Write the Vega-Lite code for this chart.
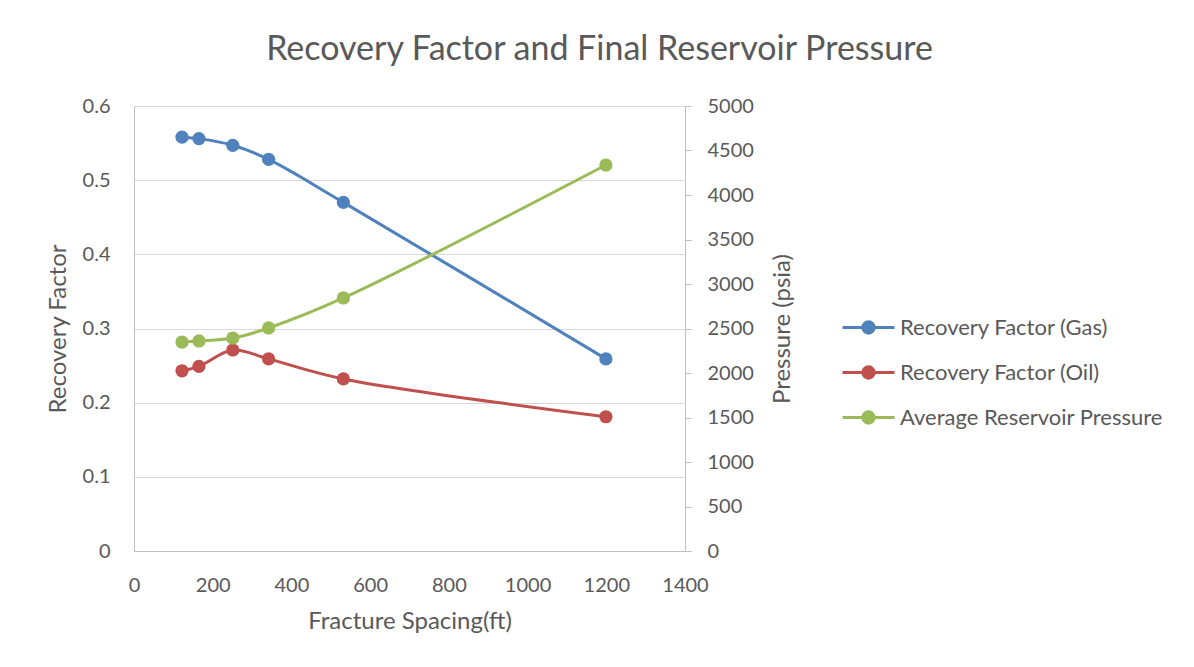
{
  "$schema": "https://vega.github.io/schema/vega-lite/v6.json",
  "width": 551,
  "height": 445,
  "autosize": {"type": "none"},
  "padding": {"left": 134, "top": 106, "right": 509, "bottom": 116},
  "background": "white",
  "title": {
    "text": "Recovery Factor and Final Reservoir Pressure",
    "fontSize": 34,
    "font": "Lato",
    "fontWeight": "normal",
    "color": "#595959",
    "anchor": "middle",
    "dx": 190,
    "offset": 29
  },
  "data": {
    "values": [
      {"spacing": 122, "value": 0.558, "series": "Recovery Factor (Gas)"},
      {"spacing": 165, "value": 0.556, "series": "Recovery Factor (Gas)"},
      {"spacing": 251, "value": 0.547, "series": "Recovery Factor (Gas)"},
      {"spacing": 342, "value": 0.528, "series": "Recovery Factor (Gas)"},
      {"spacing": 532, "value": 0.470, "series": "Recovery Factor (Gas)"},
      {"spacing": 1199, "value": 0.259, "series": "Recovery Factor (Gas)"},
      {"spacing": 122, "value": 0.243, "series": "Recovery Factor (Oil)"},
      {"spacing": 165, "value": 0.249, "series": "Recovery Factor (Oil)"},
      {"spacing": 251, "value": 0.271, "series": "Recovery Factor (Oil)"},
      {"spacing": 342, "value": 0.259, "series": "Recovery Factor (Oil)"},
      {"spacing": 532, "value": 0.232, "series": "Recovery Factor (Oil)"},
      {"spacing": 1199, "value": 0.181, "series": "Recovery Factor (Oil)"},
      {"spacing": 122, "value": 2348, "series": "Average Reservoir Pressure"},
      {"spacing": 165, "value": 2360, "series": "Average Reservoir Pressure"},
      {"spacing": 251, "value": 2393, "series": "Average Reservoir Pressure"},
      {"spacing": 342, "value": 2506, "series": "Average Reservoir Pressure"},
      {"spacing": 532, "value": 2843, "series": "Average Reservoir Pressure"},
      {"spacing": 1199, "value": 4337, "series": "Average Reservoir Pressure"}
    ]
  },
  "encoding": {
    "x": {
      "field": "spacing",
      "type": "quantitative",
      "scale": {"domain": [0, 1400], "nice": false},
      "axis": {
        "title": "Fracture Spacing(ft)",
        "values": [0, 200, 400, 600, 800, 1000, 1200, 1400],
        "format": "d",
        "grid": false,
        "ticks": false,
        "labelFlush": false,
        "labelOverlap": false,
        "domainColor": "#bfbfbf",
        "domainWidth": 1,
        "labelFontSize": 20,
        "labelColor": "#595959",
        "labelPadding": 24,
        "titleFontSize": 24,
        "titleFontWeight": "normal",
        "titleColor": "#595959",
        "titlePadding": 14
      }
    },
    "color": {
      "field": "series",
      "type": "nominal",
      "scale": {
        "domain": ["Recovery Factor (Gas)", "Recovery Factor (Oil)", "Average Reservoir Pressure"],
        "range": ["#4f81bd", "#c0504d", "#9bbb59"]
      },
      "legend": {
        "orient": "none",
        "legendX": 707,
        "legendY": 194,
        "title": null,
        "symbolType": "M-1,0H1M-0.22,0A0.22,0.22 0 1,1 0.22,0A0.22,0.22 0 1,1 -0.22,0Z",
        "symbolSize": 2704,
        "symbolStrokeWidth": 3,
        "labelFontSize": 22,
        "labelColor": "#595959",
        "labelFont": "Lato",
        "labelOffset": 4,
        "labelLimit": 400,
        "rowPadding": 5,
        "padding": 0,
        "encode": {
          "symbols": {
            "update": {
              "fill": {"scale": "color", "field": "value"},
              "stroke": {"scale": "color", "field": "value"},
              "opacity": {"value": 1}
            }
          }
        }
      }
    }
  },
  "layer": [
    {
      "transform": [{"filter": "datum.series != 'Average Reservoir Pressure'"}],
      "mark": {
        "type": "line",
        "interpolate": "catmull-rom",
        "strokeWidth": 3,
        "point": {"filled": true, "size": 175, "opacity": 1}
      },
      "encoding": {
        "y": {
          "field": "value",
          "type": "quantitative",
          "scale": {"domain": [0, 0.6], "nice": false},
          "axis": {
            "title": "Recovery Factor",
            "values": [0, 0.1, 0.2, 0.3, 0.4, 0.5, 0.6],
            "format": ".1~f",
            "grid": true,
            "gridColor": "#d9d9d9",
            "gridWidth": 1,
            "ticks": false,
            "labelFlush": false,
            "domainColor": "#bfbfbf",
            "labelFontSize": 20,
            "labelColor": "#595959",
            "labelPadding": 24,
            "titleFontSize": 24,
            "titleFontWeight": "normal",
            "titleColor": "#595959",
            "titlePadding": 12
          }
        }
      }
    },
    {
      "transform": [{"filter": "datum.series == 'Average Reservoir Pressure'"}],
      "mark": {
        "type": "line",
        "interpolate": "catmull-rom",
        "strokeWidth": 3,
        "point": {"filled": true, "size": 175, "opacity": 1}
      },
      "encoding": {
        "y": {
          "field": "value",
          "type": "quantitative",
          "scale": {"domain": [0, 5000], "nice": false},
          "axis": {
            "orient": "right",
            "title": "Pressure (psia)",
            "titleAngle": 270,
            "values": [0, 500, 1000, 1500, 2000, 2500, 3000, 3500, 4000, 4500, 5000],
            "format": "d",
            "grid": false,
            "ticks": true,
            "tickSize": 6,
            "labelFlush": false,
            "tickColor": "#bfbfbf",
            "domainColor": "#bfbfbf",
            "labelFontSize": 20,
            "labelColor": "#595959",
            "labelPadding": 16,
            "titleFontSize": 24,
            "titleFontWeight": "normal",
            "titleColor": "#595959",
            "titlePadding": 41
          }
        }
      }
    }
  ],
  "resolve": {"scale": {"y": "independent"}},
  "config": {"view": {"stroke": null}, "font": "Lato"}
}
